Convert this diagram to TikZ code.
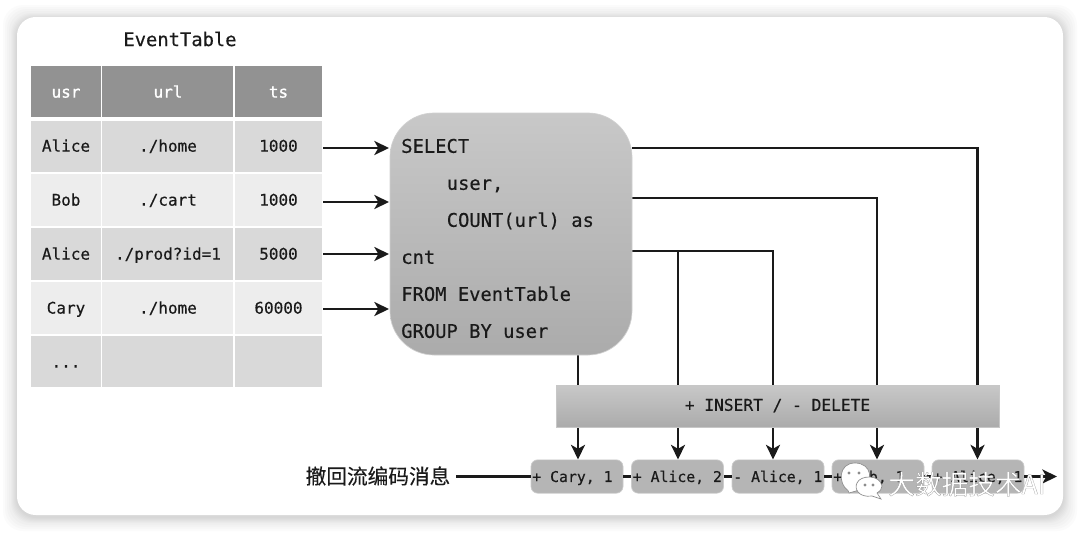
\documentclass[tikz,border=0pt]{standalone}
\usepackage{fontspec}
\setmonofont[FakeBold=0.35]{DejaVu Sans Mono}
\newfontfamily\headfont[FakeBold=1.1]{DejaVu Sans Mono}
\newfontfamily\cjkfont[FakeBold=0.25]{Noto Sans CJK SC}
\newfontfamily\wmfont[FakeBold=0.7]{Noto Sans CJK SC}
\usetikzlibrary{arrows.meta}
\definecolor{hdr}{HTML}{929292}
\definecolor{rowa}{HTML}{D9D9D9}
\definecolor{rowb}{HTML}{EDEDED}
\definecolor{boxt}{HTML}{C8C8C8}
\definecolor{boxb}{HTML}{ABABAB}
\definecolor{ink}{HTML}{1A1A1A}
\definecolor{wmline}{HTML}{8C8C8C}
\newcommand{\msgtext}[1]{\makebox[67pt][l]{#1}}
\tikzset{
  cell/.style={inner sep=0pt,text height=11pt,text depth=2.6pt,font=\ttfamily\fontsize{12}{14}\selectfont,text=ink},
  head/.style={cell,text=white,font=\headfont\fontsize{12}{14}\selectfont},
  wire/.style={line width=1.8pt,draw=ink},
  flow/.style={wire,-{Stealth[length=11pt,width=10.5pt,inset=3pt]}},
  msg/.style={rounded corners=5pt,fill=boxb!65!boxt,draw=black!20,line width=.5pt,inner xsep=1pt,inner ysep=0pt,minimum width=69pt,minimum height=25pt,text height=10.6pt,text depth=2.4pt,text=ink,font=\ttfamily\fontsize{11.1}{13}\selectfont},
  sqlline/.style={anchor=west,inner sep=0pt,text height=13.2pt,text depth=3pt,font=\ttfamily\fontsize{14.1}{16}\selectfont,text=ink},
  bubble/.style={fill=white,draw=wmline,line width=.5pt}
}
\begin{document}
\begin{tikzpicture}[x=0.75pt,y=-0.75pt]
\useasboundingbox (0,0) rectangle (1080,532);
\fill[white] (0,0) rectangle (1080,532);
% card shadow
\foreach \d in {14,12,10,8,6,5,4,3,2,1}{
  \fill[black,opacity=0.017,rounded corners=15pt] (17-\d,17-\d+2) rectangle (1063+\d,515+\d+2);
}
\fill[white,rounded corners=14pt] (17,17) rectangle (1063,515);
% table
\node[inner sep=0pt,font=\ttfamily\fontsize{14.1}{16}\selectfont,text=ink] (title) at (180,39) {EventTable};
\foreach \ya/\yb/\c in {66/117/hdr,121/172/rowa,174/226/rowb,228/280/rowa,282/334/rowb,336/387/rowa}{
  \fill[\c] (31.2,\ya) rectangle (100.7,\yb);
  \fill[\c] (102.2,\ya) rectangle (233.2,\yb);
  \fill[\c] (234.7,\ya) rectangle (322.2,\yb);
}
\node[head] (h1) at (66,92) {usr};
\node[head] (h2) at (168,92) {url};
\node[head] (h3) at (278.5,92) {ts};
\node[cell] (a1) at (66,146) {Alice};
\node[cell] (a2) at (168,146) {./home};
\node[cell] (a3) at (278.5,146) {1000};
\node[cell] (b1) at (66,200) {Bob};
\node[cell] (b2) at (168,200) {./cart};
\node[cell] (b3) at (278.5,200) {1000};
\node[cell] (c1) at (66,254) {Alice};
\node[cell] (c2) at (168,254) {./prod?id=1};
\node[cell] (c3) at (278.5,254) {5000};
\node[cell] (d1) at (66,308) {Cary};
\node[cell] (d2) at (168,308) {./home};
\node[cell] (d3) at (278.5,308) {60000};
\node[cell] (e1) at (66,362) {...};
% anchors for the incoming arrows
\coordinate (ia) at (323,148); \coordinate (ib) at (323,202);
\coordinate (ic) at (323,254); \coordinate (id) at (323,309);
\coordinate (ja) at (389,148); \coordinate (jb) at (389,202);
\coordinate (jc) at (389,254); \coordinate (jd) at (389,309);
% outgoing sources and tips
\coordinate (s1) at (632,148); \coordinate (s2) at (632,198); \coordinate (s3) at (632,251);
\coordinate (s4) at (578,355); \coordinate (s5) at (678,251);
\coordinate (t1) at (578,459.5); \coordinate (t2) at (678,459.5); \coordinate (t3) at (773,459.5);
\coordinate (t4) at (877,459.5); \coordinate (t5) at (977.5,459.5);
% message nodes
\node[msg] (m1) at (577,476.5) {\msgtext{+ Cary, 1}};
\node[msg] (m2) at (677.5,476.5) {\msgtext{+ Alice, 2}};
\node[msg] (m3) at (778,476.5) {\msgtext{- Alice, 1}};
\node[msg] (m4) at (878,476.5) {\msgtext{+ Bob, 1}};
\node[msg] (m5) at (978,476.5) {\msgtext{+ Alice, 1}};
% wires
\draw[flow] (s4) -- (t1);
\draw[flow] (s3) -| (t3);
\draw[flow] (s5) -- (t2);
\draw[flow] (s2) -| (t4);
\draw[flow] (s1) -| (t5);
\foreach \p/\q in {ia/ja,ib/jb,ic/jc,id/jd}{ \draw[flow] (\p) -- (\q); }
% stream line
\node[inner sep=0pt,text=ink,font=\cjkfont\fontsize{15.5}{18}\selectfont] (label) at (378,476) {撤回流编码消息};
\coordinate (start) at (456,476.5);
\coordinate (end) at (1057,476.5);
\draw[wire] (start) -- (m1.west);
\draw[wire] (m1.east) -- (m2.west);
\draw[wire] (m2.east) -- (m3.west);
\draw[wire] (m3.east) -- (m4.west);
\draw[wire] (m4.east) -- (m5.west);
\draw[flow] (m5.east) -- (end);
% boxes on top
\node[inner sep=0pt,minimum width=332.25pt,minimum height=31.5pt,top color=boxt,bottom color=boxb,draw=black!22,line width=.5pt] (ins) at (777.5,406) {};
\node[inner sep=0pt,text=ink,font=\ttfamily\fontsize{12.15}{14}\selectfont] (inst) at (777.5,405.5) {+ INSERT / - DELETE};
\node[inner sep=0pt,minimum width=181.5pt,minimum height=181.5pt,rounded corners=33pt,top color=boxt,bottom color=boxb,draw=black!18,line width=.5pt] (sql) at (511,234) {};
\node[sqlline] (q1) at (401,146) {SELECT};
\node[sqlline] (q2) at (446.5,183) {user,};
\node[sqlline] (q3) at (446.5,220) {COUNT(url) as};
\node[sqlline] (q4) at (401,257) {cnt};
\node[sqlline] (q5) at (401,294) {FROM EventTable};
\node[sqlline] (q6) at (401,331) {GROUP BY user};
% watermark
\path[bubble] (848,490.5) .. controls (838,484) and (838,463) .. (855,463) .. controls (872,463) and (874,482) .. (862,488) -- (856,491) -- (849,493) -- cycle;
\path[bubble] (877,493) -- (881,499) -- (872,496) .. controls (858,498) and (854,488) .. (857,483) .. controls (860,475) and (880,474) .. (882,486) .. controls (882,489) and (880,491) .. (877,493) -- cycle;
\fill[wmline] (849,473) circle (1.6) (859,473) circle (1.6) (865,485) circle (1.6) (873,485) circle (1.6);
\node[inner sep=0pt,anchor=west,text=white,font=\wmfont\fontsize{20}{22}\selectfont] (wm) at (888,484) {\special{pdf:code 0.55 G}大数据技术AI};
\end{tikzpicture}
\end{document}
